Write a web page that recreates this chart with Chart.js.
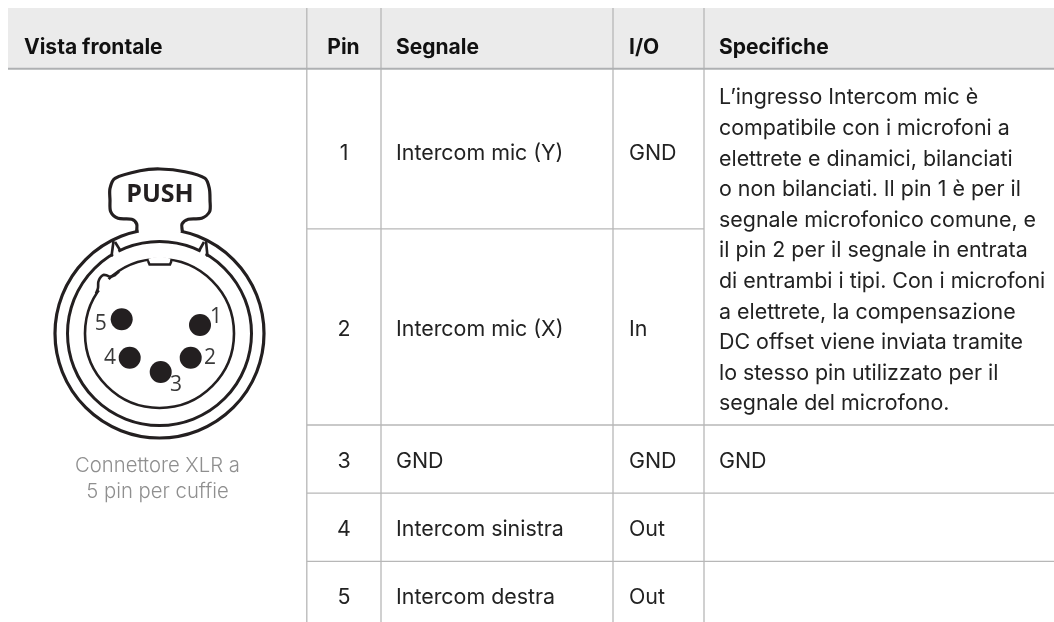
<!DOCTYPE html>
<html>
<head>
<meta charset="utf-8">
<script src="https://cdn.jsdelivr.net/npm/chart.js@4"></script>
<style>
  html, body { margin: 0; padding: 0; background: #fff; }
  canvas { display: block; }
</style>
</head>
<body>
<canvas id="pinChart" width="1054" height="622"></canvas>
<script>
// table content
const headers = ['Vista frontale', 'Pin', 'Segnale', 'I/O', 'Specifiche'];
const pins = ['1', '2', '3', '4', '5'];
const signals = ['Intercom mic (Y)', 'Intercom mic (X)', 'GND', 'Intercom sinistra', 'Intercom destra'];
const directions = ['GND', 'In', 'GND', 'Out', 'Out'];
const specLines = [
  'L’ingresso Intercom mic è',
  'compatibile con i microfoni a',
  'elettrete e dinamici, bilanciati',
  'o non bilanciati. Il pin 1 è per il',
  'segnale microfonico comune, e',
  'il pin 2 per il segnale in entrata',
  'di entrambi i tipi. Con i microfoni',
  'a elettrete, la compensazione',
  'DC offset viene inviata tramite',
  'lo stesso pin utilizzato per il',
  'segnale del microfono.'
];
const specGnd = 'GND';
const captionLines = ['Connettore XLR a', '5 pin per cuffie'];
const pushLabel = 'PUSH';

// table layout, in scale units
const headerLeft = 8, headerTop = 8, headerBottom = 68.7;
const columnLines = [306.8, 381, 613, 704];
const rowLines = [
  { y: 228.8, from: 306.8, to: 704 },
  { y: 425, from: 306.8, to: 1054 },
  { y: 493.2, from: 306.8, to: 1054 },
  { y: 561.3, from: 306.8, to: 1054 }
];
const headerX = [24, 343.5, 396, 629, 719];
const headerY = 47.7;
const rowY = [153.5, 330, 461.7, 530, 598];
const specY = [98, 128.6, 159.2, 189.8, 220.4, 251, 281.6, 312.2, 342.8, 373.4, 404];
const captionY = [466, 492];

// connector drawing
const ringCenter = { x: 159.5, y: 333.5 };
const pinDots = [{ x: 200, y: 325 }, { x: 190.7, y: 357.7 }, { x: 160.7, y: 372 }, { x: 129.7, y: 357.7 }, { x: 121.7, y: 319.3 }];
const pinDigits = [
  { t: '1', x: 216, y: 317 }, { t: '2', x: 210, y: 358 }, { t: '3', x: 176, y: 385 },
  { t: '4', x: 110, y: 358 }, { t: '5', x: 100.7, y: 324 }
];
const tabOutline = [
  [136.7, 231], [136.7, 224], [131.7, 219.3], [118, 218.3], [110.7, 211.7], [110, 200], [110, 188.3], [115, 178.3],
  [140, 170.7], [160, 169], [185, 171.7], [205, 178.3], [209.3, 188.3], [210, 200], [209.6, 211.7], [201.7, 218.3],
  [188.3, 219.3], [182, 224], [182.3, 231]
];
const outerGap = [[139, 232.5], [150, 229.8], [160, 229], [170, 229.8], [180.5, 232.5]];
const leftGap = [[113, 254], [118.5, 251.5]];
const rightGap = [[200.5, 251.5], [205.5, 254]];
const latchLines = [
  [[113.5, 241], [111.5, 256.5]],
  [[206, 241], [207.5, 256.5]],
  [[115, 242], [120, 250]],
  [[204, 242], [199.5, 250]]
];
const notchGap = [[149, 261], [160, 259], [170, 261]];
const notchLine = [[148, 261], [149.5, 264.5], [170, 264.5], [171.5, 261]];
const bumpGap = [[99, 290.5], [103, 285], [108.5, 279]];
const bumpLine = [[96, 293.5], [98, 288], [98.3, 282], [100, 278], [103.3, 275], [107, 275.5], [110, 276.7], [115, 275], [119, 271.5]];

const ink = '#231f20';
const gridColor = '#b7b7b7';

function pts(list) {
  return list.map(p => ({ x: p[0], y: p[1] }));
}
function line(list, color, width, tension) {
  return { data: pts(list), showLine: true, borderColor: color, borderWidth: width, pointRadius: 0, tension: tension || 0, fill: false };
}
function ring(radius, width) {
  return {
    data: [ringCenter], showLine: false, pointRadius: radius, pointBorderWidth: width,
    pointBackgroundColor: 'transparent', pointBorderColor: ink
  };
}

const datasets = [];
// header band
datasets.push({
  data: [{ x: headerLeft, y: headerTop }, { x: 1054, y: headerTop }], showLine: true, borderWidth: 0,
  pointRadius: 0, fill: { value: headerBottom }, backgroundColor: '#ebebeb'
});
columnLines.forEach(x => datasets.push(line([[x, headerTop], [x, 622]], gridColor, 1.3)));
rowLines.forEach(r => datasets.push(line([[r.from, r.y], [r.to, r.y]], gridColor, 1.3)));
datasets.push(line([[headerLeft, headerBottom], [1054, headerBottom]], '#aeb0b2', 2));
// connector
datasets.push(ring(104.5, 3.2));
datasets.push(ring(92, 3));
datasets.push(ring(74.5, 2.6));
datasets.push(line(outerGap, '#fff', 7));
datasets.push(line(leftGap, '#fff', 7));
datasets.push(line(rightGap, '#fff', 7));
datasets.push(line(notchGap, '#fff', 5));
datasets.push(line(bumpGap, '#fff', 4.5));
datasets.push(line(tabOutline, ink, 3.2, 0.3));
latchLines.forEach(l => datasets.push(line(l, ink, 2.6)));
datasets.push(line(notchLine, ink, 2.4));
datasets.push(line(bumpLine, ink, 2.6, 0.3));
datasets.push({ data: pinDots, showLine: false, pointRadius: 11, pointBorderWidth: 0, pointBackgroundColor: ink });
datasets.forEach((d, i) => { d.order = -i; });

// text goes through the same scales as the marks
const tableText = {
  id: 'tableText',
  afterDatasetsDraw(chart) {
    const ctx = chart.ctx;
    const sx = chart.scales.x, sy = chart.scales.y;
    function put(t, x, y, font, color, align) {
      ctx.font = font;
      ctx.fillStyle = color;
      ctx.textAlign = align || 'left';
      ctx.textBaseline = 'middle';
      ctx.fillText(t, sx.getPixelForValue(x), sy.getPixelForValue(y));
    }
    ctx.save();
    const body = '400 21.4px Inter';
    const bold = '700 21px Inter';
    headers.forEach((h, i) => put(h, headerX[i], headerY, bold, '#111', i === 1 ? 'center' : 'left'));
    pins.forEach((p, i) => {
      put(p, 344, rowY[i], body, '#222', 'center');
      put(signals[i], headerX[2], rowY[i], body, '#222');
      put(directions[i], headerX[3], rowY[i], body, '#222');
    });
    specLines.forEach((s, i) => put(s, headerX[4], specY[i], body, '#222'));
    put(specGnd, headerX[4], rowY[2], body, '#222');
    captionLines.forEach((c, i) => put(c, 157.5, captionY[i], '300 20.3px Inter', '#8f8f8f', 'center'));
    put(pushLabel, 160, 195, '700 25px "Open Sans"', ink, 'center');
    pinDigits.forEach(d => put(d.t, d.x, d.y, '400 21px "Open Sans"', '#3a3a3a', 'center'));
    ctx.restore();
  }
};

new Chart(document.getElementById('pinChart').getContext('2d'), {
  type: 'scatter',
  data: { datasets: datasets },
  options: {
    responsive: false,
    animation: false,
    layout: { padding: 0, autoPadding: false },
    events: [],
    plugins: { legend: { display: false }, tooltip: { enabled: false }, title: { display: false } },
    scales: {
      x: { type: 'linear', min: 0, max: 1054, display: false },
      y: { type: 'linear', min: 0, max: 622, reverse: true, display: false }
    }
  },
  plugins: [tableText]
});
</script>
</body>
</html>
